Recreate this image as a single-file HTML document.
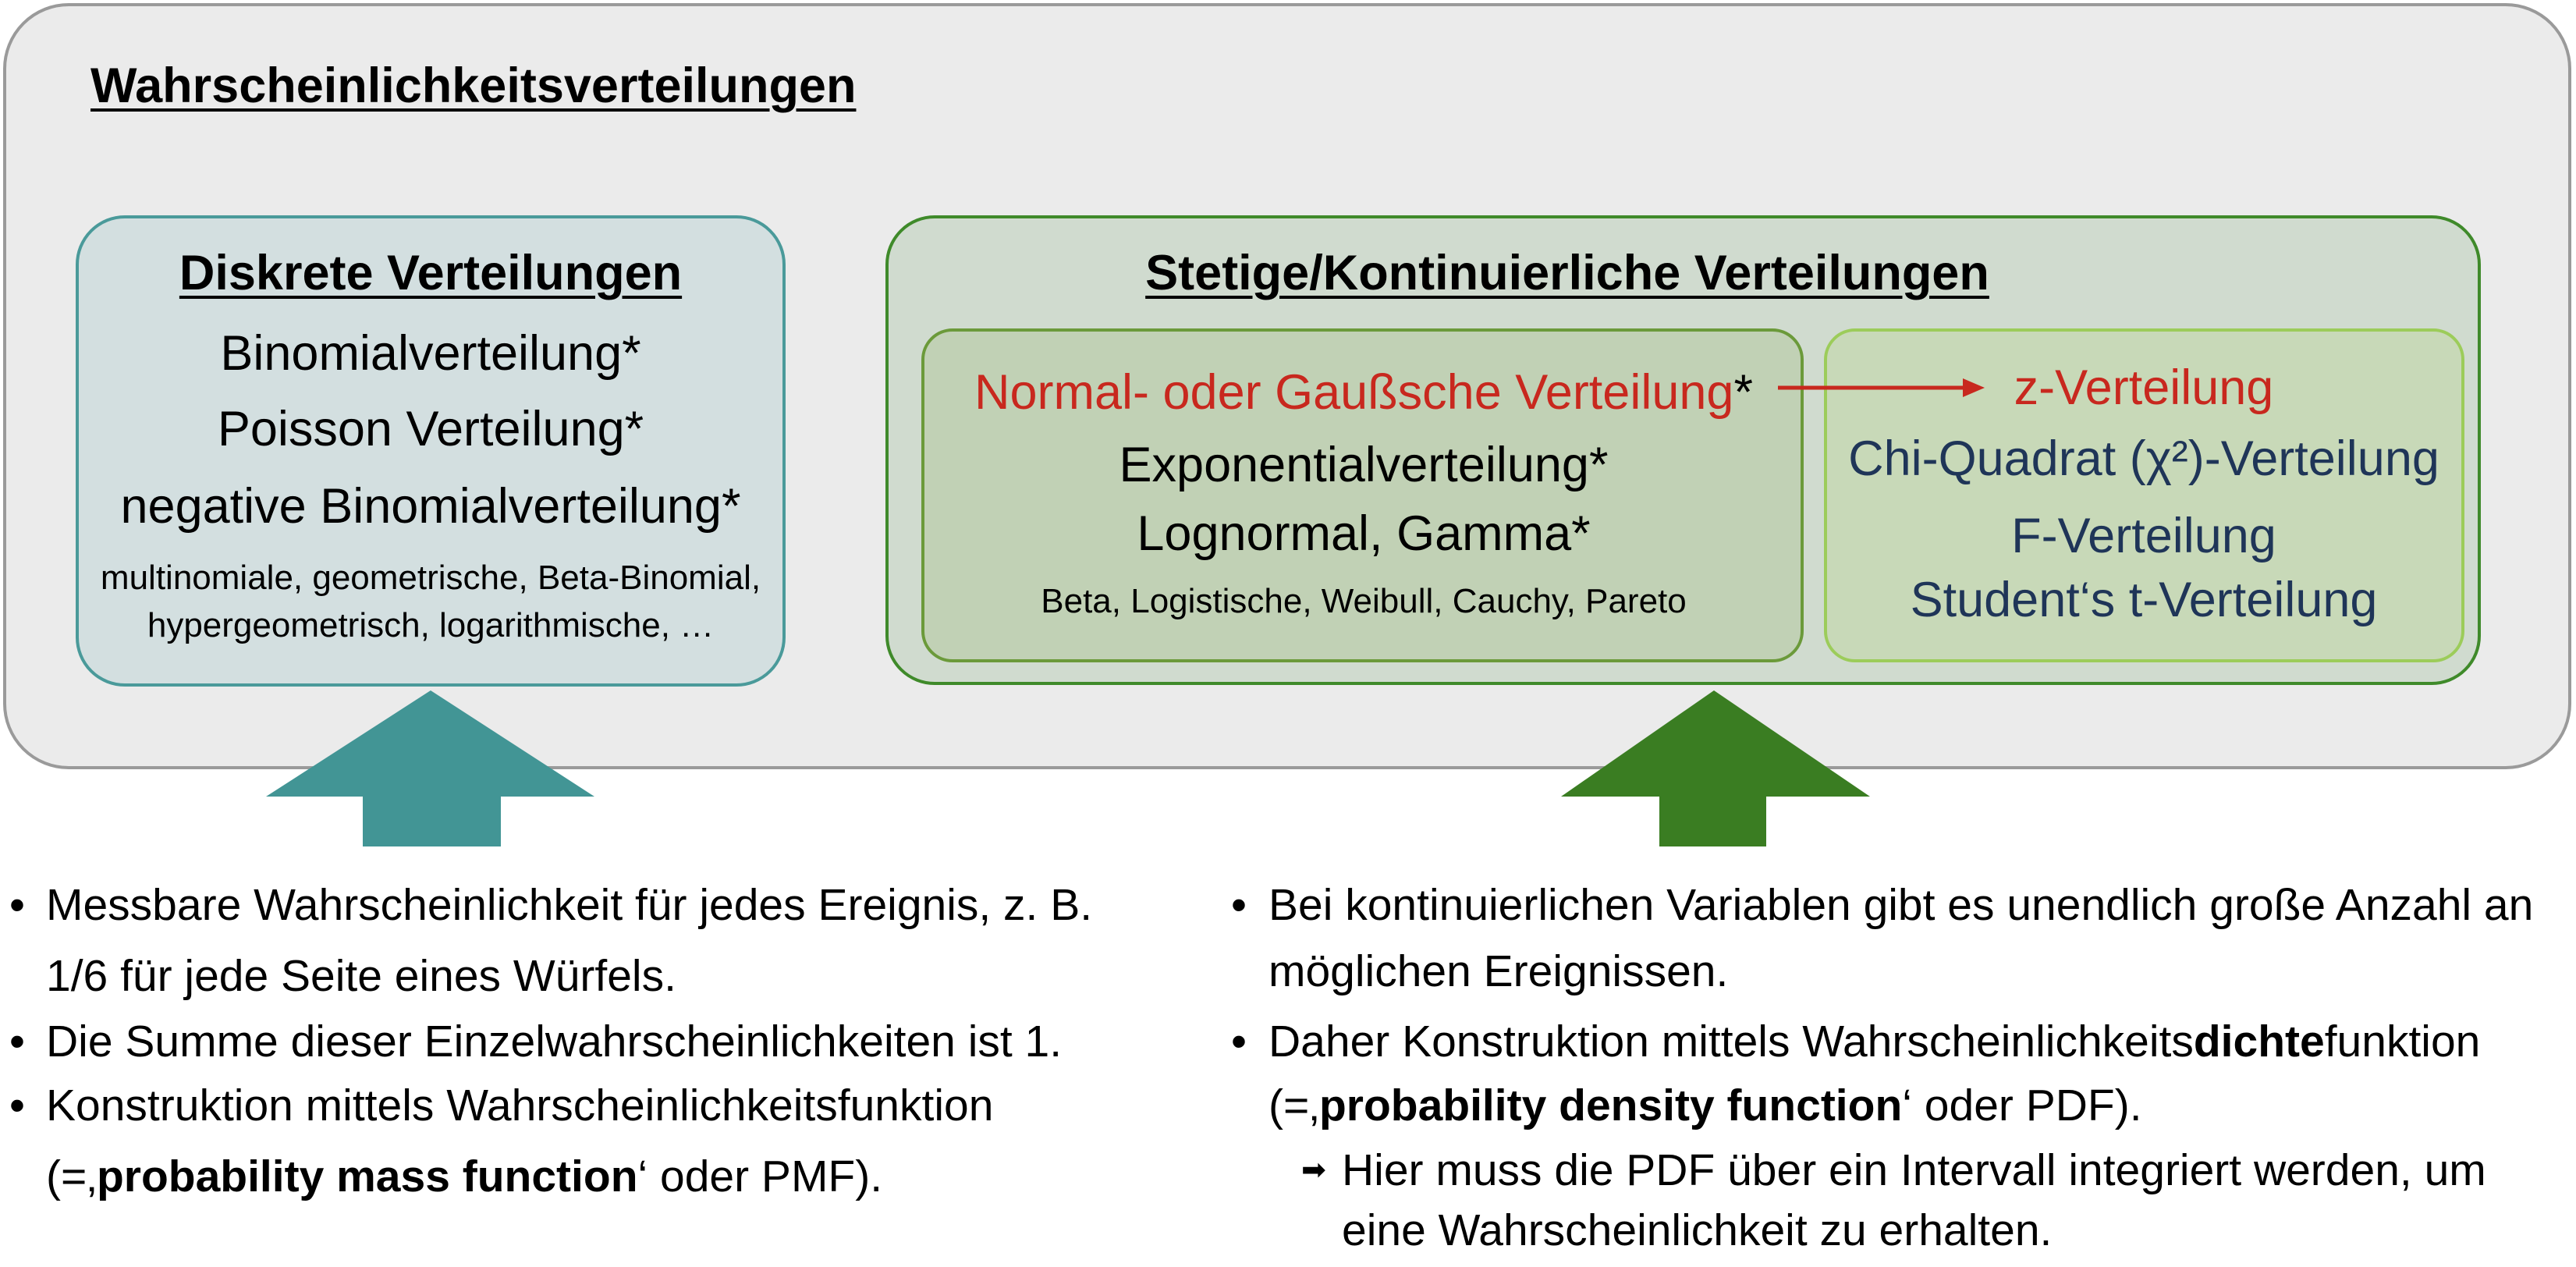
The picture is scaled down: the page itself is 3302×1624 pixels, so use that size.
<!DOCTYPE html>
<html><head><meta charset="utf-8"><style>
body{margin:0;width:3302px;height:1624px;background:#fff;position:relative;overflow:hidden;font-family:"Liberation Sans",Arial,sans-serif;color:#000}
.b{position:absolute;box-sizing:border-box}
.t{position:absolute;white-space:nowrap;line-height:70px;height:70px}
.c{transform:translateX(-50%)}
.L{font-size:63px}.S{font-size:44px}
.red{color:#c8281e}.navy{color:#1f3558}
.ul{font-weight:bold;text-decoration:underline;text-decoration-thickness:4px;text-underline-offset:8px}
.bl{font-size:57px;line-height:88px;position:absolute;white-space:nowrap}
</style></head><body>
<div class="b" style="left:4px;top:4px;width:3292px;height:982px;border:4px solid #9a9a9a;border-radius:84px;background:#ebebeb"></div>
<div class="t ul" style="left:116px;top:75px;font-size:63px">Wahrscheinlichkeitsverteilungen</div>

<div class="b" style="left:97px;top:276px;width:910px;height:604px;border:4px solid #4a9a9a;border-radius:63px;background:#d3dfe0"></div>
<div class="t c ul" style="left:552px;top:315px;font-size:63px">Diskrete Verteilungen</div>
<div class="t c L" style="left:552px;top:418px">Binomialverteilung*</div>
<div class="t c L" style="left:552px;top:515px">Poisson Verteilung*</div>
<div class="t c L" style="left:552px;top:614px">negative Binomialverteilung*</div>
<div class="t c S" style="left:552px;top:706px">multinomiale, geometrische, Beta-Binomial,</div>
<div class="t c S" style="left:552px;top:767px">hypergeometrisch, logarithmische, …</div>

<div class="b" style="left:1135px;top:276px;width:2045px;height:602px;border:4px solid #3f8a2a;border-radius:63px;background:#d0dbcf"></div>
<div class="t c ul" style="left:2009px;top:315px;font-size:63px">Stetige/Kontinuierliche Verteilungen</div>
<div class="b" style="left:1181px;top:421px;width:1131px;height:428px;border:4px solid #6b9a3a;border-radius:40px;background:#c1d1b5"></div>
<div class="b" style="left:2338px;top:421px;width:821px;height:428px;border:4px solid #9ccc5a;border-radius:40px;background:#c8d9b8"></div>
<div class="t c L" style="left:1748px;top:468px"><span class="red">Normal- oder Gaußsche Verteilung</span>*</div>
<div class="t c L" style="left:1748px;top:561px">Exponentialverteilung*</div>
<div class="t c L" style="left:1748px;top:649px">Lognormal, Gamma*</div>
<div class="t c S" style="left:1748px;top:736px">Beta, Logistische, Weibull, Cauchy, Pareto</div>
<div class="t c L red" style="left:2748px;top:462px">z-Verteilung</div>
<div class="t c L navy" style="left:2748px;top:553px">Chi-Quadrat (χ²)-Verteilung</div>
<div class="t c L navy" style="left:2748px;top:652px">F-Verteilung</div>
<div class="t c L navy" style="left:2748px;top:734px">Student‘s t-Verteilung</div>

<svg class="b" style="left:0;top:0" width="3302" height="1624">
<line x1="2279" y1="497" x2="2520" y2="497" stroke="#c8281e" stroke-width="5"/>
<polygon points="2544,497 2516,485 2516,509" fill="#c8281e"/>
<polygon points="552,885 762,1021 642,1021 642,1085 465,1085 465,1021 341,1021" fill="#429595"/>
<polygon points="2197,885 2397,1021 2264,1021 2264,1085 2127,1085 2127,1021 2001,1021" fill="#3a7d22"/>
</svg>

<div class="bl" style="left:12px;top:1116px">•</div>
<div class="bl" style="left:59px;top:1116px">Messbare Wahrscheinlichkeit für jedes Ereignis, z. B.</div>
<div class="bl" style="left:59px;top:1207px">1/6 für jede Seite eines Würfels.</div>
<div class="bl" style="left:12px;top:1291px">•</div>
<div class="bl" style="left:59px;top:1291px">Die Summe dieser Einzelwahrscheinlichkeiten ist 1.</div>
<div class="bl" style="left:12px;top:1373px">•</div>
<div class="bl" style="left:59px;top:1373px">Konstruktion mittels Wahrscheinlichkeitsfunktion</div>
<div class="bl" style="left:59px;top:1464px">(=‚<b>probability mass function</b>‘ oder PMF).</div>

<div class="bl" style="left:1578px;top:1116px">•</div>
<div class="bl" style="left:1626px;top:1116px">Bei kontinuierlichen Variablen gibt es unendlich große Anzahl an</div>
<div class="bl" style="left:1626px;top:1201px">möglichen Ereignissen.</div>
<div class="bl" style="left:1578px;top:1291px">•</div>
<div class="bl" style="left:1626px;top:1291px">Daher Konstruktion mittels Wahrscheinlichkeits<b>dichte</b>funktion</div>
<div class="bl" style="left:1626px;top:1373px">(=‚<b>probability density function</b>‘ oder PDF).</div>
<div class="bl" style="left:1668px;top:1456px;font-size:38px">➡</div>
<div class="bl" style="left:1720px;top:1456px">Hier muss die PDF über ein Intervall integriert werden, um</div>
<div class="bl" style="left:1720px;top:1533px">eine Wahrscheinlichkeit zu erhalten.</div>
</body></html>
